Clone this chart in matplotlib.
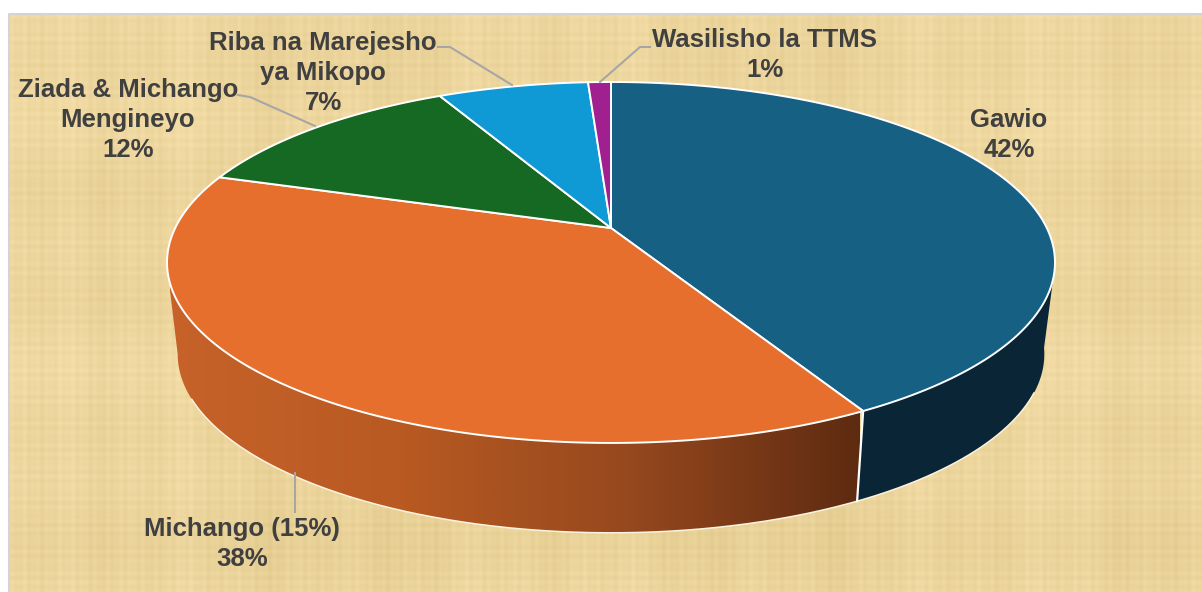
"""
Pie 3D : sources de revenus (en swahili), fond papyrus
"""

import numpy as np
import matplotlib
matplotlib.use("Agg")
import matplotlib.pyplot as plt
from matplotlib.patches import Polygon
from matplotlib.colors import LinearSegmentedColormap

# Données
labels = ["Gawio", "Michango (15%)", "Ziada & Michango\nMengineyo", "Riba na Marejesho\nya Mikopo", "Wasilisho la TTMS"]
values = [42, 38, 12.4, 6.6, 1]

# Couleurs
top_colors = ["#166083", "#e66f2d", "#166922", "#0f9ad6", "#a0208f"]
blue_side = "#0a2535"
text_color = "#404040"
line_color = "#a6a6a6"

plt.rcParams["font.family"] = ["Liberation Sans", "DejaVu Sans"]

W, H = 1202, 592
CX, CY = 611, 228   # sommet du camembert en pixels


def top_point(t):
    """Angle (degrés, horaire depuis le haut) vers pixels, avec perspective"""
    a = np.radians(t)
    u, v = np.sin(a), np.cos(a)
    d = 1 + 0.191 * v
    return CX + 435.8 * u / d, CY - 173.9 * v / d


def bottom_point(t):
    """Même chose pour le bord inférieur de la tranche"""
    a = np.radians(t)
    u, v = np.sin(a), np.cos(a)
    d = 1 + 0.191 * v
    return CX + 0.976 * 435.8 * u / d, CY + 92 - 0.99 * 173.9 * v / d


def arc(func, t0, t1):
    x, y = func(np.linspace(t0, t1, 200))
    return np.column_stack([x, y])


def draw_background(ax):
    """Texture papyrus légère (sinus croisés)"""
    xs = np.arange(W - 9)
    ys = np.arange(H - 14)
    col = (np.sin(xs / 1.9) * 1.6 + np.sin(xs / 1.1) * 1.4 + np.sin(xs / 23.0) * 1.5
           + np.sin(xs / 9.0 + 1) * 1.5 + np.sin(xs / 71.0) * 1.5)
    row = (np.sin(ys / 1.7) * 1.4 + np.sin(ys / 1.2) * 1.2 + np.sin(ys / 19.0 + 2) * 1.5
           + np.sin(ys / 47.0) * 1.5)
    grid = col[None, :] + row[:, None]
    base = np.array([236, 213, 156], dtype=float)
    tint = np.array([1.0, 1.1, 1.5])
    img = np.clip(base[None, None, :] + grid[:, :, None] * tint, 0, 255).astype(np.uint8)
    ax.imshow(img, extent=(9, W, H, 14), aspect="auto", zorder=0, interpolation="bilinear")
    ax.plot([9, 9, W], [H, 14, 14], color="#d4d4d8", lw=1.5, zorder=1)


def draw_sides(ax, angles):
    """Côté visible : bleu sombre puis orange en dégradé"""
    right_top, right_bottom = 106.0, 99.0
    left_top, left_bottom = 255.0, 259.0
    end_blue = angles[1]

    top = arc(top_point, right_top, end_blue)
    bottom = arc(bottom_point, end_blue, right_bottom)
    ax.add_patch(Polygon(np.vstack([top, bottom]), closed=True, facecolor=blue_side, edgecolor="none", zorder=2))

    top = arc(top_point, end_blue, left_top)
    bottom = arc(bottom_point, left_bottom, end_blue)
    poly = Polygon(np.vstack([top, bottom]), closed=True, facecolor="none", edgecolor="none",
                   transform=ax.transData, zorder=2)
    ax.add_patch(poly)
    cmap = LinearSegmentedColormap.from_list("side", ["#c6622a", "#b85a22", "#96481e", "#5e2b11"])
    grad = np.linspace(0, 1, 512)[None, :]
    im = ax.imshow(grad, cmap=cmap, extent=(170, 860, 560, 170), aspect="auto", zorder=2)
    im.set_clip_path(poly)

    # Bords blancs
    bx, by = bottom_point(np.linspace(right_bottom + 14, left_bottom - 14, 300))
    ax.plot(bx, by, color="#fbf3df", lw=1.1, solid_capstyle="round", zorder=3)
    x0, y0 = top_point(end_blue)
    x1, y1 = bottom_point(end_blue)
    ax.plot([x0, x1], [y0, y1], color="white", lw=1.6, zorder=3)


def draw_top(ax, angles):
    for i, color in enumerate(top_colors):
        pts = arc(top_point, angles[i], angles[i + 1])
        pts = np.vstack([[CX, CY], pts])
        ax.add_patch(Polygon(pts, closed=True, facecolor=color, edgecolor="white",
                             linewidth=1.4, joinstyle="round", zorder=4))


def draw_labels(ax):
    pct = [f"{v:.0f}%" for v in values]
    places = [(1009, 135), (242, 544), (128, 120), (323, 73), (765, 55)]
    leaders = [
        None,
        ([295, 295], [473, 512]),
        ([238, 250, 315], [95, 97, 126]),
        ([438, 450, 512], [47, 47, 85]),
        ([650, 640, 600], [47, 47, 82]),
    ]
    for name, p, (x, y), lead in zip(labels, pct, places, leaders):
        ax.text(x, y, f"{name}\n{p}", ha="center", va="center", fontsize=18.5, fontweight="bold",
                color=text_color, linespacing=1.33, zorder=6)
        if lead:
            ax.plot(lead[0], lead[1], color=line_color, lw=1.5, zorder=5)


def main():
    fig = plt.figure(figsize=(W / 100, H / 100), dpi=100, facecolor="white")
    ax = fig.add_axes([0, 0, 1, 1])
    ax.axis("off")

    angles = np.concatenate([[0], np.cumsum(values)]) / np.sum(values) * 360

    draw_background(ax)
    draw_sides(ax, angles)
    draw_top(ax, angles)
    draw_labels(ax)

    ax.set_xlim(0, W)
    ax.set_ylim(H, 0)
    fig.savefig("out.png", dpi=100)


if __name__ == "__main__":
    main()
